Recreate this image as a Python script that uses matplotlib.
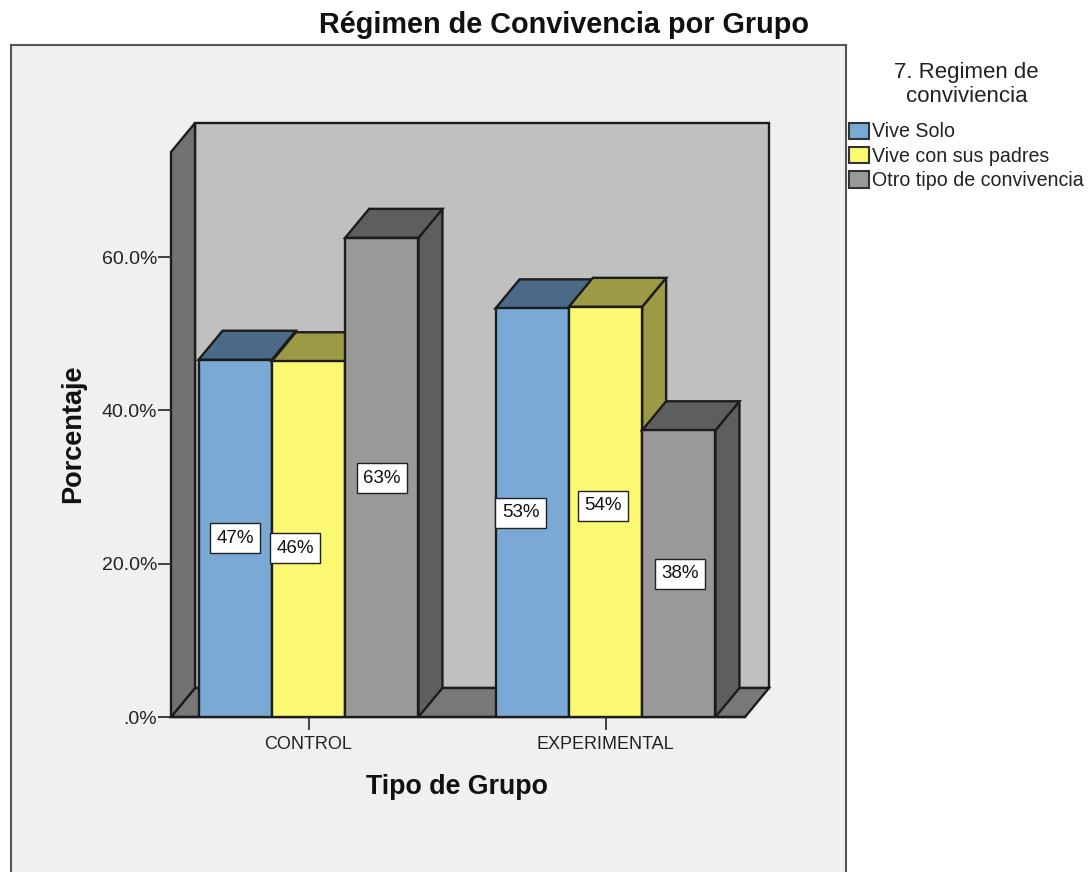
import matplotlib
matplotlib.use('Agg')
import matplotlib.pyplot as plt
from matplotlib.patches import Patch

plt.rcParams['font.family'] = ['Liberation Sans', 'DejaVu Sans']

groups = ['CONTROL', 'EXPERIMENTAL']
series_names = ['Vive Solo', 'Vive con sus padres', 'Otro tipo de convivencia']
control = [46.6, 46.4, 62.5]
experimental = [53.3, 53.5, 37.4]
pct_labels = [['47%', '46%', '63%'], ['53%', '54%', '38%']]
yticks = [0, 20, 40, 60]
ytick_labels = ['.0%', '20.0%', '40.0%', '60.0%']

front_colors = ['#7aa9d6', '#fbf872', '#999999']
top_colors = ['#4b6a87', '#9c9a45', '#5e5e5e']
legend_colors = ['#7aa9d6', '#fbf872', '#999999']
# label shift from the bar centre (x in bar units, y in percent)
label_shift = [[(0, 0), (-0.18, -1.2), (0, -0.1)], [(-0.16, 0), (-0.03, 0.8), (0.02, 0)]]

W, H = 1089, 872
fig = plt.figure(figsize=(W / 100, H / 100), dpi=100, facecolor='white')


def box(l, t, r, b):
    return [l / W, 1 - b / H, (r - l) / W, (b - t) / H]


# outer grey panel, open at the bottom edge of the image
frame = fig.add_axes(box(11, 45, 846, 874), facecolor='#f0f0f0')
frame.set_xticks([])
frame.set_yticks([])
for s in frame.spines.values():
    s.set_linewidth(1.5)
    s.set_color('#555555')
frame.spines['bottom'].set_visible(False)

ax = fig.add_axes(box(171, 123, 769, 717), facecolor='none')
ax.set_xlim((171 - 308.5) / 297, (769 - 308.5) / 297)
ymax = (717 - 123) / (460 / 60)
ax.set_ylim(0, ymax)

bar_w = 73.3 / 297
dx = 24 / 297
dy = 29 / (460 / 60)
x0, x1 = ax.get_xlim()
edge = '#1c1c1c'
lw = 1.7

# walls and floor
ax.fill([x0 + dx, x1, x1, x0 + dx], [dy, dy, ymax, ymax], fc='#c0c0c0', ec=edge, lw=lw, clip_on=False)
ax.fill([x0, x1 - dx, x1, x0 + dx], [0, 0, dy, dy], fc='#787878', ec=edge, lw=lw, clip_on=False)
ax.fill([x0, x0 + dx, x0 + dx, x0], [0, dy, ymax, ymax - dy], fc='#727272', ec=edge, lw=lw, clip_on=False)

# bars, front faces plus oblique top and side
for g, values in enumerate([control, experimental]):
    for i, v in enumerate(values):
        xc = g + (i - 1) * bar_w
        l, r = xc - bar_w / 2, xc + bar_w / 2
        ax.fill([r, r + dx, r + dx, r], [0, dy, v + dy, v], fc=top_colors[i], ec=edge, lw=lw, zorder=3)
        ax.fill([l, l + dx, r + dx, r], [v, v + dy, v + dy, v], fc=top_colors[i], ec=edge, lw=lw, zorder=3)
        ax.bar(xc, v, bar_w, color=front_colors[i], edgecolor=edge, linewidth=lw, zorder=3)

for g, values in enumerate([control, experimental]):
    for i, v in enumerate(values):
        xc = g + (i - 1) * bar_w + label_shift[g][i][0] * bar_w
        ax.text(xc, v / 2 + label_shift[g][i][1], pct_labels[g][i], ha='center', va='center', fontsize=13.5,
                color='#111111', zorder=5,
                bbox=dict(boxstyle='square,pad=0.34', fc='white', ec='#222222', lw=1))

ax.set_xticks([0, 1])
ax.set_xticklabels(groups, fontsize=13, color='#222222')
ax.set_yticks(yticks)
ax.set_yticklabels(ytick_labels, fontsize=14, color='#222222')
ax.tick_params(axis='both', length=9.4, width=1.3, color='#333333')
ax.tick_params(axis='y', pad=0.5)
ax.tick_params(axis='x', pad=4.5)
for name in ['top', 'right']:
    ax.spines[name].set_visible(False)
ax.spines['left'].set_visible(False)
ax.spines['bottom'].set_bounds(x0, x1 - dx)
ax.spines['bottom'].set_linewidth(lw)
ax.spines['bottom'].set_color(edge)

fig.text(564 / W, 1 - 25 / H, 'Régimen de Convivencia por Grupo', ha='center', va='center',
         fontsize=20.8, fontweight='bold', color='#111111')
fig.text(73 / W, 1 - 434 / H, 'Porcentaje', rotation=90, ha='center', va='center',
         fontsize=19.5, fontweight='bold', color='#111111')
fig.text(457 / W, 1 - 787 / H, 'Tipo de Grupo', ha='center', va='center',
         fontsize=19.3, fontweight='bold', color='#111111')

handles = [Patch(fc=c, ec='#333333', lw=1.5) for c in legend_colors]
leg = fig.legend(handles, series_names, loc='upper left', bbox_to_anchor=(845 / W, 1 - 58 / H),
                 frameon=False, fontsize=14.1, title='7. Regimen de\nconviviencia', title_fontsize=16,
                 handlelength=1.0, handleheight=0.9, handletextpad=0.2, labelspacing=0.28,
                 borderpad=0.2, borderaxespad=0)
leg.get_title().set_color('#222222')
leg.get_title().set_multialignment('center')
leg.get_title().set_linespacing(1.2)
leg._legend_box.sep = 11
for t in leg.get_texts():
    t.set_color('#222222')

fig.savefig('out.png', dpi=100)
